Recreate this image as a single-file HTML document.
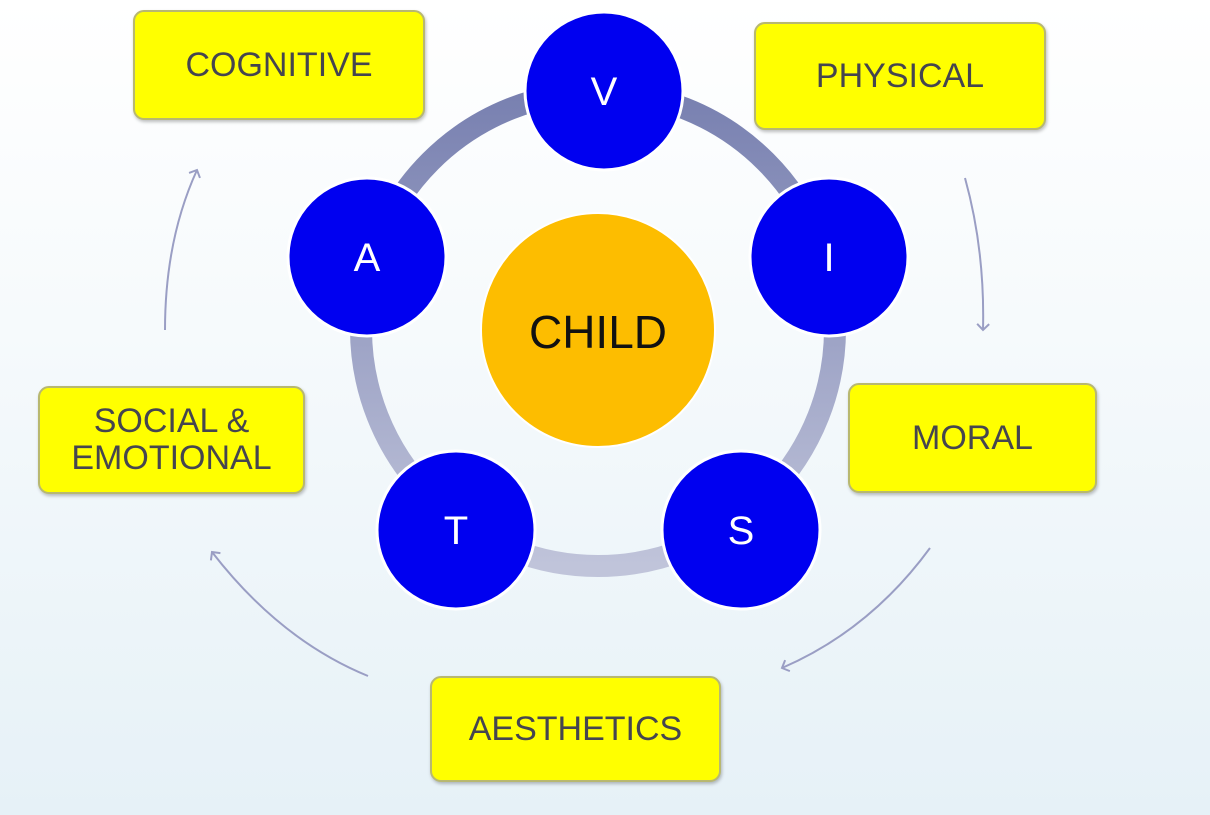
<!DOCTYPE html>
<html><head><meta charset="utf-8"><style>
html,body{margin:0;padding:0}
body{width:1210px;height:815px;overflow:hidden;background:linear-gradient(to bottom,#ffffff 0%,#f6fafc 40%,#e6f1f7 100%);font-family:"Liberation Sans",sans-serif;position:relative}
.box{position:absolute;background:#ffff00;border:2px solid #b8b870;border-radius:11px;box-sizing:border-box;display:flex;align-items:center;justify-content:center;text-align:center;color:#45454f;font-size:34px;line-height:37px;box-shadow:1px 2px 3px rgba(0,0,0,0.25)}
</style></head><body>
<svg width="1210" height="815" style="position:absolute;left:0;top:0">
<defs>
<linearGradient id="rg" x1="0" y1="0" x2="0" y2="1">
<stop offset="0" stop-color="#7880b0"/><stop offset="1" stop-color="#c0c4da"/>
</linearGradient>
<marker id="ah" markerWidth="14" markerHeight="14" refX="7" refY="7" orient="auto" markerUnits="userSpaceOnUse">
<path d="M1,1 L7,7 L1,13" fill="none" stroke="#9a9ec4" stroke-width="2"/>
</marker>
</defs>
<circle cx="598" cy="329" r="237" fill="none" stroke="url(#rg)" stroke-width="22"/>
<path d="M965,178 Q985,250 983,330" fill="none" stroke="#9a9ec4" stroke-width="2" marker-end="url(#ah)"/>
<path d="M930,548 Q870,630 782,668" fill="none" stroke="#9a9ec4" stroke-width="2" marker-end="url(#ah)"/>
<path d="M368,676 Q280,640 212,552" fill="none" stroke="#9a9ec4" stroke-width="2" marker-end="url(#ah)"/>
<path d="M165,330 Q165,240 197,170" fill="none" stroke="#9a9ec4" stroke-width="2" marker-end="url(#ah)"/>
<circle cx="598" cy="330" r="117" fill="#fdbd00" stroke="#ffffff" stroke-width="2"/>
<text x="598" y="348" text-anchor="middle" font-family="Liberation Sans, sans-serif" font-size="46" fill="#111">CHILD</text>
<g fill="#0000f0" stroke="#ffffff" stroke-width="3">
<circle cx="604" cy="91" r="79"/>
<circle cx="829" cy="257" r="79"/>
<circle cx="741" cy="530" r="79"/>
<circle cx="456" cy="530" r="79"/>
<circle cx="367" cy="257" r="79"/>
</g>
<g fill="#ffffff" font-family="Liberation Sans, sans-serif" font-size="40" text-anchor="middle">
<text x="604" y="105">V</text>
<text x="829" y="271">I</text>
<text x="741" y="544">S</text>
<text x="456" y="544">T</text>
<text x="367" y="271">A</text>
</g>
</svg>
<div class="box" style="left:133px;top:10px;width:292px;height:110px">COGNITIVE</div>
<div class="box" style="left:754px;top:22px;width:292px;height:108px">PHYSICAL</div>
<div class="box" style="left:848px;top:383px;width:249px;height:110px">MORAL</div>
<div class="box" style="left:430px;top:676px;width:291px;height:106px">AESTHETICS</div>
<div class="box" style="left:38px;top:386px;width:267px;height:108px">SOCIAL &amp;<br>EMOTIONAL</div>
</body></html>
